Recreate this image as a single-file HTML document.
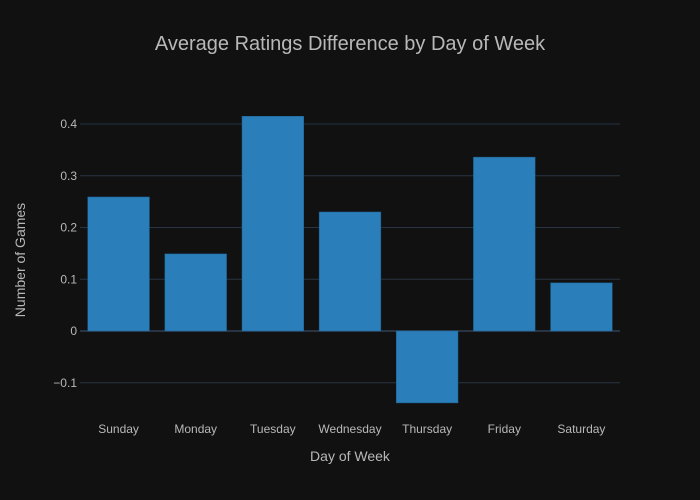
<!DOCTYPE html>
<html><head><meta charset="utf-8">
<style>html,body{margin:0;padding:0;background:#111111;overflow:hidden;}svg{display:block;}svg text{font-family:"Liberation Sans",sans-serif;}</style>
</head><body>
<svg id="chart" width="700" height="500" xmlns="http://www.w3.org/2000/svg">
<rect width="700" height="500" fill="#111111"/>
<g id="grid"></g><g id="bars"></g><g id="ticks"></g>
<text x="350" y="50" text-anchor="middle" font-size="20" fill="#b8b8b8">Average Ratings Difference by Day of Week</text>
<text x="350" y="461" text-anchor="middle" font-size="14" fill="#b8b8b8">Day of Week</text>
<text transform="translate(25,260) rotate(-90)" text-anchor="middle" font-size="14" fill="#b8b8b8">Number of Games</text>
</svg>
<script>
const categories=["Sunday","Monday","Tuesday","Wednesday","Thursday","Friday","Saturday"];
const values=[0.259,0.149,0.415,0.230,-0.139,0.336,0.093];
const yTicks=[-0.1,0,0.1,0.2,0.3,0.4];
const yTickLabels=["−0.1","0","0.1","0.2","0.3","0.4"];
const NS="http://www.w3.org/2000/svg";
const x0=80,x1=620,y0px=331,pxPerUnit=517.5;
const y=v=>y0px-v*pxPerUnit;
const band=(x1-x0)/categories.length;
const xc=i=>x0+band*(i+0.5);
function mk(t,a,p){const e=document.createElementNS(NS,t);for(const k in a)e.setAttribute(k,a[k]);p.appendChild(e);return e;}
const grid=document.getElementById('grid'),bars=document.getElementById('bars'),ticks=document.getElementById('ticks');
yTicks.forEach((t,i)=>{
  const l=mk('line',{x1:x0,x2:x1,y1:y(t),y2:y(t),stroke:'#283442','stroke-width':t===0?2:1},grid);
  
  
  const tx=mk('text',{x:x0-3,y:y(t)+4,'text-anchor':'end','font-size':12,fill:'#b8b8b8'},ticks);
  tx.textContent=yTickLabels[i];
  
  
});
categories.forEach((c,i)=>{
  const v=values[i],w=band*0.8;
  const r=mk('rect',{x:xc(i)-w/2,y:Math.min(y(v),y(0)),width:w,height:Math.abs(y(v)-y(0)),fill:'#2a7fba',stroke:'#1f5f8f','stroke-width':0.5},bars);
  
  
  const tx=mk('text',{x:xc(i),y:433,'text-anchor':'middle','font-size':12,fill:'#b8b8b8'},ticks);
  tx.textContent=c;
  
  
});
</script>
</body></html>
